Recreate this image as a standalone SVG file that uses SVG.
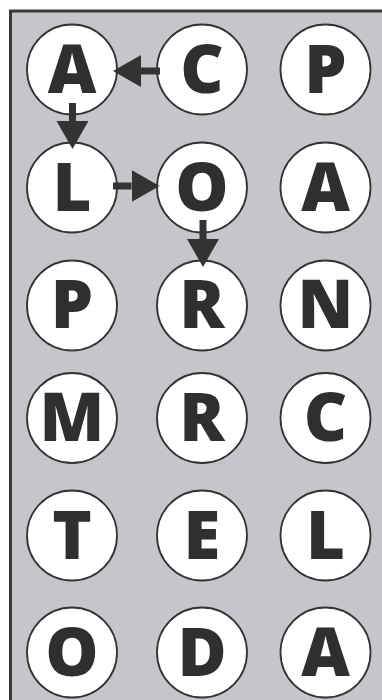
<svg xmlns="http://www.w3.org/2000/svg" width="382" height="700" viewBox="0 0 382 700">
<style>
.bg{fill:#c5c6ca;stroke:#3a3a3a;stroke-width:3}
.node circle{fill:#fff;stroke:#333;stroke-width:1.8}
.node text{font-family:"Open Sans","Liberation Sans",sans-serif;font-weight:800;font-size:67px;fill:#2f2f2f;text-anchor:middle}
.conn line{stroke:#333;stroke-width:7;marker-end:url(#ah)}
</style>
<defs>
<marker id="ah" markerUnits="userSpaceOnUse" markerWidth="29" markerHeight="33" viewBox="0 -16.5 29 33" refX="0" refY="0" orient="auto">
<path d="M0,-16 L28,0 L0,16 Z" fill="#333"/>
</marker>
</defs>
<rect class="bg" x="10.5" y="11" width="380" height="700"/>
<g id="r1c1" class="node"><circle cx="72" cy="69.5" r="45"/><text x="72" y="92.5">A</text></g>
<g id="r1c2" class="node"><circle cx="202" cy="69.5" r="45"/><text x="202" y="92.5">C</text></g>
<g id="r1c3" class="node"><circle cx="325.5" cy="69.5" r="45"/><text x="325.5" y="92.5">P</text></g>
<g id="r2c1" class="node"><circle cx="72" cy="187.5" r="45"/><text x="72" y="210.5">L</text></g>
<g id="r2c2" class="node"><circle cx="202" cy="187.5" r="45"/><text x="202" y="210.5">O</text></g>
<g id="r2c3" class="node"><circle cx="325.5" cy="187.5" r="45"/><text x="325.5" y="210.5">A</text></g>
<g id="r3c1" class="node"><circle cx="72" cy="305.5" r="45"/><text x="72" y="327.5">P</text></g>
<g id="r3c2" class="node"><circle cx="202" cy="305.5" r="45"/><text x="202" y="327.5">R</text></g>
<g id="r3c3" class="node"><circle cx="325.5" cy="305.5" r="45"/><text x="325.5" y="327.5">N</text></g>
<g id="r4c1" class="node"><circle cx="72" cy="418" r="45"/><text x="72" y="441">M</text></g>
<g id="r4c2" class="node"><circle cx="202" cy="418" r="45"/><text x="202" y="441">R</text></g>
<g id="r4c3" class="node"><circle cx="325.5" cy="418" r="45"/><text x="325.5" y="441">C</text></g>
<g id="r5c1" class="node"><circle cx="72" cy="535.5" r="45"/><text x="72" y="558.5">T</text></g>
<g id="r5c2" class="node"><circle cx="202" cy="535.5" r="45"/><text x="202" y="558.5">E</text></g>
<g id="r5c3" class="node"><circle cx="325.5" cy="535.5" r="45"/><text x="325.5" y="558.5">L</text></g>
<g id="r6c1" class="node"><circle cx="72" cy="652.5" r="45"/><text x="72" y="675.5">O</text></g>
<g id="r6c2" class="node"><circle cx="202" cy="652.5" r="45"/><text x="202" y="675.5">D</text></g>
<g id="r6c3" class="node"><circle cx="325.5" cy="652.5" r="45"/><text x="325.5" y="675.5">A</text></g>
<g id="connectors" class="conn">
<line x1="160" y1="71" x2="141" y2="71"/>
<line x1="72.5" y1="103" x2="72.5" y2="121"/>
<line x1="113" y1="186" x2="131.5" y2="186"/>
<line x1="203" y1="220" x2="203" y2="239"/>
</g>
</svg>
